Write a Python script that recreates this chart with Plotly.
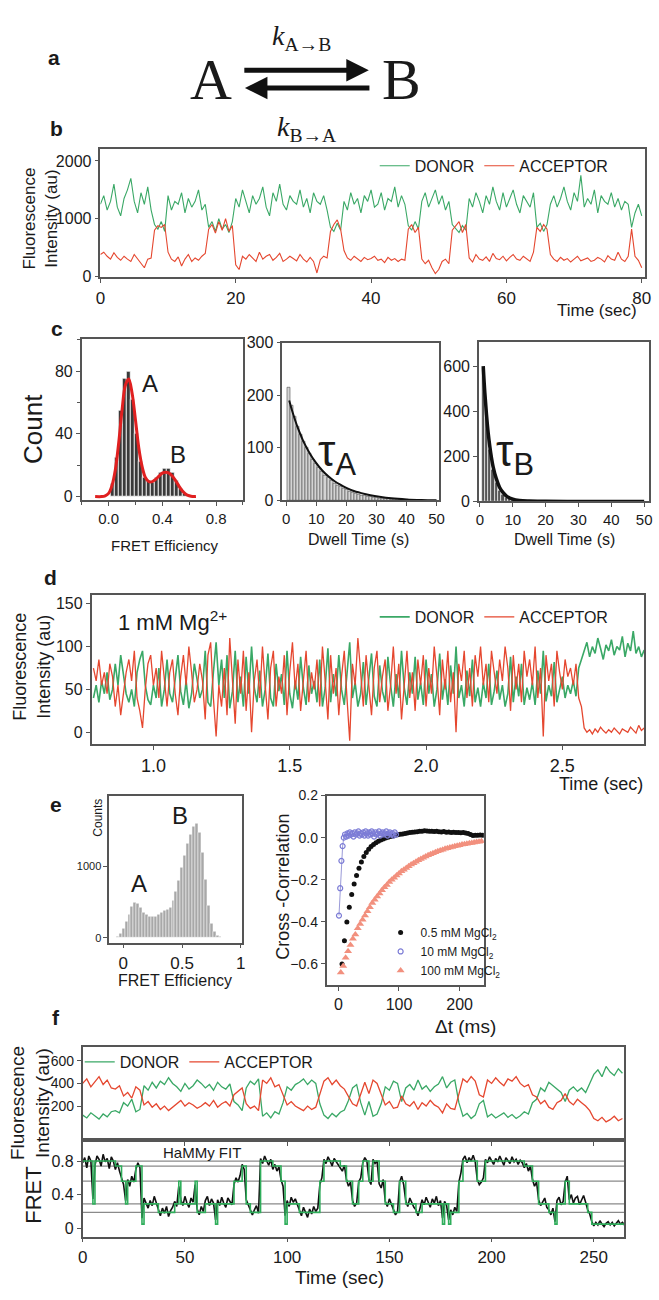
import plotly.graph_objects as go

W, H = 659, 1300
FONT = "Liberation Sans Narrow, Liberation Sans, Arial, sans-serif"
SERIF = "Liberation Serif, DejaVu Serif, serif"
INK = "#1a1a1a"
AXC = "#555555"
GREEN = "#3aa866"
RED = "#e5472f"

# ---------------- panel b: intensity trace, 0.5 s frames ----------------
b_donor = [1250, 1400, 1150, 1300, 1600, 1200, 1050, 1350, 1500, 1700, 1300, 1100, 1450, 1250, 1550, 1150,
           900, 820, 950, 780,
           1400, 1150, 1300, 1250, 1450, 1100, 1350, 1200, 1300, 1500, 1150, 1250,
           850, 950, 780, 1000, 820, 900, 760, 950,
           1350, 1200, 1500, 1300, 1100, 1400, 1250, 1350, 1550, 1200, 1050, 1450, 1300, 1600, 1250, 1150,
           1400, 1300, 1250, 1500, 1200, 1350, 1100, 1450, 1300, 1250, 1400, 1150,
           850, 780, 920, 800,
           1300, 1150, 1450, 1250, 1350, 1100, 1400, 1300, 1500, 1200, 1250, 1450, 1150, 1350, 1300, 1550,
           1200, 1400, 1250,
           880, 800, 950, 820,
           1300, 1450, 1200, 1350, 1500, 1250, 1400, 1150, 1300,
           900, 820, 760, 880, 800,
           1350, 1200, 1450, 1300, 1100, 1400, 1250, 1550, 1300, 1150, 1450, 1200, 1350, 1500, 1250, 1100,
           1400, 1300, 1200, 1450,
           850, 920, 780, 900,
           1250, 1400, 1200, 1350, 1550, 1300, 1150, 1450, 1300, 1750, 1200, 1350, 1250, 1500, 1100, 1400,
           1300, 1250, 1450, 1200, 1350, 1150, 1300, 1250,
           850, 1100, 1250, 1050]
b_acceptor = [380, 420, 350, 300, 410, 330, 280, 350, 300, 260, 380, 300, 220, 150, 300, 320,
              800, 880, 850, 900,
              420, 300, 260, 340, 180, 300, 380, 260, 320, 280, 350, 400,
              820, 900, 750, 950, 800, 1000, 780, 880,
              200, 120, 350, 300, 380, 320, 260, 420, 300, 350, 380, 280, 330, 400, 260, 300,
              350, 310, 270, 380, 300, 250, 330, 260, 60, 290, 350, 320,
              780, 900, 980, 820,
              450, 320, 280, 350, 300, 260, 330, 290, 310, 350, 280, 300, 240, 330, 280, 310,
              260, 300, 280,
              820, 900, 760, 850,
              300, 220, 280, 150, 50, 120, 260, 300, 220,
              800, 880, 950, 760, 900,
              320, 250, 380, 300, 280, 340, 260, 400, 310, 290, 350, 270, 330, 380, 300, 280,
              350, 300, 260, 420,
              850, 780, 900, 820,
              380, 300, 260, 330, 280, 310, 250, 300, 350, 270, 300, 320, 260, 280, 330, 300,
              250, 360, 300, 280, 420, 300, 260, 350,
              820, 350, 280, 150]
b_time = [i * 0.5 for i in range(len(b_donor))]

# ---------------- panel c: FRET histogram and dwell-time histograms ----------------
c_fret_bins = [0.03, 0.06, 0.09, 0.12, 0.15, 0.18, 0.21, 0.24, 0.27, 0.30,
               0.33, 0.36, 0.39, 0.42, 0.45, 0.48, 0.51, 0.54, 0.57]
c_fret_counts = [8, 25, 55, 75, 80, 62, 40, 22, 12, 10, 9, 12, 15, 18, 18, 15, 10, 5, 2]
c_fit_x = [-0.1, -0.05, -0.025, 0, 0.025, 0.05, 0.075, 0.1, 0.125, 0.15, 0.175, 0.2, 0.225, 0.25,
           0.275, 0.3, 0.325, 0.35, 0.375, 0.4, 0.425, 0.45, 0.475, 0.5, 0.525, 0.55, 0.575,
           0.6, 0.625, 0.65]
c_fit_y = [0, 0, 0.5, 2, 7, 17, 34, 55, 71, 75, 66, 49, 31, 19, 12, 9.5, 9.5, 11, 13, 15, 15.5,
           15, 13, 10, 6.5, 3.5, 1.5, 0.5, 0, 0]

dwell_a_bins = list(range(1, 41))
dwell_a_counts = [215, 180, 160, 140, 125, 112, 100, 90, 78, 70, 62, 55, 48, 43, 38, 33, 29, 26,
                  23, 20, 17, 15, 13, 12, 10, 9, 8, 7, 6, 5, 4, 4, 3, 3, 2, 2, 2, 1, 1, 1]
dwell_a_fit_x = [1, 2, 3, 4, 5, 6, 8, 10, 12, 14, 16, 18, 20, 22, 25, 28, 31, 35, 40, 45, 50]
dwell_a_fit_y = [190, 170, 152, 136, 122, 109, 88, 71, 57, 46, 37, 30, 24, 19, 14, 10, 7, 4, 2, 1, 0.5]

dwell_b_bins = list(range(1, 21))
dwell_b_counts = [590, 380, 230, 140, 85, 50, 30, 18, 11, 7, 5, 3, 2, 2, 1, 1, 1, 0.5, 0.5, 0.5]
dwell_b_fit_x = [1, 1.5, 2, 2.5, 3, 3.5, 4, 5, 6, 7, 8, 10, 12, 15, 20, 30, 40, 50]
dwell_b_fit_y = [600, 480, 385, 305, 245, 195, 155, 100, 62, 40, 25, 10, 4, 1.5, 0.5, 0, 0, 0]

# ---------------- panel d: fast trace at 1 mM Mg2+, 10 ms frames ----------------
d_donor = [40, 55, 35, 60, 45, 70, 38, 50, 80, 55, 90, 65, 45, 35, 50, 30, 70, 85, 95, 55,
           38, 32, 55, 40, 75, 30, 50, 85, 45, 35, 65, 90, 48, 32, 60, 28, 45, 80, 62, 40,
           50, 95, 35, 30, 70, 105, 55, 85, 40, 90, 28, 48, 95, 35, 65, 30, 88, 45, 100, 52,
           35, 72, 30, 50, 92, 40, 30, 80, 48, 68, 32, 95, 45, 28, 60, 38, 88, 52, 32, 78,
           45, 60, 35, 85, 30, 52, 98, 35, 68, 42, 90, 50, 32, 72, 105, 40, 58, 30, 45, 82,
           32, 62, 92, 42, 30, 78, 48, 35, 88, 55, 30, 68, 40, 95, 52, 32, 70, 45, 88, 38,
           58, 32, 85, 45, 68, 30, 50, 92, 38, 62, 32, 78, 45, 100, 40, 55, 30, 72, 42, 85,
           35, 52, 30, 58, 40, 80, 32, 48, 72, 38, 55, 30, 45, 88, 35, 65, 42, 80, 32, 52,
           38, 58, 32, 72, 45, 95, 36, 55, 42, 82, 35, 50, 65, 40, 55, 45, 60, 42, 75, 85,
           95, 105, 88, 100, 92, 110, 98, 85, 102, 95, 108, 90, 100, 96, 112, 88, 104, 95, 118,
           92, 100, 88, 96]
d_acceptor = [75, 60, 85, 55, 70, 45, 80, 65, 30, 55, 20, 45, 70, 85, 60, 95, 40, 25, 5, 50,
              80, 90, 55, 75, 40, 95, 60, 30, 70, 85, 45, 20, 65, 90, 55, 100, 70, 35, 50, 80,
              60, 15, 90, 105, 40, -5, 55, 30, 75, 20, 110, 65, 10, 85, 45, 95, 25, 70, 0, 60,
              85, 40, 100, 55, 15, 75, 95, 30, 65, 45, 90, 20, 70, 105, 50, 80, 25, 60, 95, 35,
              70, 50, 85, 30, 100, 60, 15, 90, 45, 75, 20, 65, 95, 40, -10, 80, 55, 110, 70, 30,
              90, 50, 20, 75, 95, 35, 65, 85, 25, 55, 100, 45, 80, 15, 60, 95, 40, 70, 25, 85,
              55, 90, 30, 75, 45, 100, 65, 20, 85, 50, 95, 35, 70, 0, 80, 60, 95, 40, 75, 30,
              90, 65, 100, 55, 80, 35, 95, 70, 45, 85, 60, 100, 75, 25, 90, 50, 80, 35, 95, 65,
              85, 55, 100, 40, 75, -5, 90, 60, 80, 30, 95, 70, 50, 85, 65, 75, 55, 80, 40, 30,
              5, 0, 3, -2, 4, 0, 6, 2, -1, 3, 0, 5, 1, -2, 4, 2, 0, 6, 3, -1, 8, 2, 5]
d_time = [round(0.78 + 0.01 * i, 2) for i in range(len(d_donor))]

# ---------------- panel e: FRET histogram and cross-correlation ----------------
e_bins = [round(-0.05 + 0.025 * i, 3) for i in range(36)]
e_counts = [20, 60, 130, 220, 330, 440, 500, 480, 420, 360, 320, 300, 290, 300, 330, 360, 380, 390,
            430, 520, 650, 800, 980, 1150, 1320, 1450, 1560, 1600, 1480, 1200, 820, 450, 200, 80, 30, 10]

cc_dt_low = list(range(6, 239, 4))
cc_low = [-0.60, -0.49, -0.40, -0.33, -0.27, -0.22, -0.18, -0.145, -0.115, -0.09,
          -0.07, -0.055, -0.042, -0.032, -0.024, -0.017, -0.011, -0.006, -0.002, 0.002,
          0.005, 0.008, 0.011, 0.014, 0.016, 0.018, 0.02, 0.022, 0.024, 0.026,
          0.027, 0.028, 0.03, 0.031, 0.033, 0.032, 0.03, 0.031, 0.029, 0.03,
          0.028, 0.027, 0.029, 0.026, 0.027, 0.025, 0.026, 0.024, 0.025, 0.023,
          0.024, 0.022, 0.02, 0.015, 0.01, 0.012, 0.012, 0.013, 0.012]
cc_dt_mid = list(range(1, 96, 2))
cc_mid = [-0.37, -0.24, -0.11, -0.04, 0.0, 0.015, 0.005, 0.02, 0.01, 0.025,
          0.015, 0.02, 0.005, 0.025, 0.015, 0.02, 0.03, 0.01, 0.02, 0.015,
          0.025, 0.01, 0.03, 0.02, 0.01, 0.025, 0.015, 0.03, 0.02, 0.005,
          0.025, 0.015, 0.02, 0.03, 0.01, 0.02, 0.025, 0.015, 0.02, 0.03,
          0.01, 0.02, 0.025, 0.015, 0.02, 0.01, 0.025, 0.015]
cc_dt_high = list(range(4, 237, 4))
cc_high = [-0.64, -0.61, -0.57, -0.54, -0.51, -0.48, -0.46, -0.43, -0.41, -0.39,
           -0.37, -0.35, -0.33, -0.31, -0.295, -0.28, -0.265, -0.25, -0.235, -0.225,
           -0.21, -0.2, -0.19, -0.18, -0.17, -0.16, -0.152, -0.144, -0.136, -0.128,
           -0.121, -0.114, -0.107, -0.101, -0.095, -0.089, -0.084, -0.079, -0.074, -0.069,
           -0.065, -0.061, -0.057, -0.053, -0.05, -0.047, -0.044, -0.041, -0.038, -0.036,
           -0.033, -0.031, -0.029, -0.027, -0.025, -0.023, -0.021, -0.019, -0.017]
cc_names = ["0.5 mM MgCl<sub>2</sub>", "10 mM MgCl<sub>2</sub>", "100 mM MgCl<sub>2</sub>"]

# ---------------- panel f: long trace with HaMMy fit ----------------
f_donor = [120, 95, 140, 110, 85, 130, 105, 150, 160, 140, 230, 200, 260, 150, 170,
           380, 340, 410, 360, 420, 390, 450, 400, 370, 330, 400, 350, 380, 430, 400,
           360, 390, 340, 410, 370, 350, 395, 240, 210, 160, 360, 420, 390, 440,
           110, 140, 95, 150, 130, 230, 370, 340, 390, 410, 440, 390, 430, 400, 220,
           120, 90, 135, 105, 145, 165, 250, 360, 390, 230, 120, 240, 110, 130, 220,
           370, 340, 420, 400, 240, 360, 390, 340, 430, 350, 380, 330, 370, 395, 460,
           360, 410, 430, 230, 110, 135, 90, 120, 220, 250,
           105, 130, 95, 120, 140, 100, 125, 90, 115, 150, 130, 230, 260, 360, 330,
           410, 380, 350, 320, 240, 340, 370, 330, 360, 320, 400,
           480, 520, 460, 550, 500, 470, 530, 490]
f_acceptor = [400, 440, 370, 420, 460, 390, 430, 360, 350, 380, 290, 320, 270, 370, 340,
              210, 240, 190, 220, 170, 200, 160, 190, 220, 250, 200, 230, 210, 180, 200,
              230, 200, 250, 190, 220, 240, 200, 300, 330, 360, 220, 180, 200, 160,
              430, 400, 450, 370, 390, 300, 210, 240, 200, 180, 160, 200, 170, 190, 310,
              420, 450, 390, 430, 380, 350, 290, 220, 200, 300, 410, 310, 430, 400, 300,
              210, 240, 180, 190, 290, 220, 200, 240, 170, 230, 200, 250, 210, 190, 140,
              220, 180, 170, 310, 440, 410, 460, 420, 300, 280,
              430, 400, 450, 410, 380, 440, 420, 460, 400, 370, 390, 300, 280, 220, 250,
              190, 170, 230, 250, 310, 240, 210, 260, 230, 200, 160,
              90, 70, 100, 60, 80, 110, 70, 90]
f_time = [2 * i for i in range(len(f_donor))]

f_fret = [0.78, 0.84, 0.72, 0.86, 0.80, 0.35,
          0.75, 0.86, 0.82, 0.74, 0.88, 0.79, 0.83, 0.71, 0.85, 0.80,
          0.70, 0.78, 0.68, 0.60, 0.52, 0.33, 0.58, 0.50, 0.62, 0.55, 0.70, 0.78, 0.72, 0.12,
          0.36, 0.30, 0.24, 0.33, 0.27, 0.38, 0.31,
          0.22, 0.15, 0.24, 0.18, 0.26, 0.14, 0.21, 0.25,
          0.32, 0.26, 0.50, 0.34, 0.27, 0.38, 0.30, 0.25, 0.36, 0.31, 0.52,
          0.23, 0.16, 0.26, 0.20, 0.33, 0.38, 0.27, 0.35, 0.30, 0.10,
          0.34, 0.27, 0.37, 0.30, 0.25, 0.36, 0.32, 0.28,
          0.52, 0.60, 0.55, 0.63, 0.76, 0.70, 0.34, 0.28, 0.24, 0.16, 0.22, 0.27, 0.18,
          0.83, 0.77, 0.86, 0.80, 0.75, 0.82, 0.70, 0.76, 0.68, 0.73, 0.58, 0.50, 0.15,
          0.33, 0.26, 0.37, 0.31, 0.35, 0.28,
          0.22, 0.15, 0.25, 0.19, 0.13, 0.23, 0.17, 0.26, 0.20, 0.24,
          0.52, 0.60, 0.82, 0.77, 0.85, 0.80, 0.74, 0.83, 0.79, 0.76,
          0.72, 0.68, 0.75, 0.58, 0.50, 0.55, 0.33, 0.26, 0.30, 0.55, 0.60,
          0.78, 0.84, 0.80, 0.58, 0.52, 0.82, 0.77, 0.80, 0.53, 0.48, 0.58,
          0.32, 0.26, 0.35, 0.28, 0.23, 0.16, 0.20, 0.55, 0.62, 0.52,
          0.33, 0.26, 0.36, 0.30, 0.25, 0.22, 0.15, 0.24,
          0.34, 0.28, 0.37, 0.31, 0.25, 0.35, 0.30, 0.38, 0.27, 0.33,
          0.12, 0.32, 0.27, 0.10, 0.22, 0.16, 0.25, 0.20, 0.55, 0.66,
          0.82, 0.86, 0.78, 0.84, 0.80, 0.87, 0.79, 0.58, 0.52, 0.55, 0.60,
          0.82, 0.78, 0.85, 0.80, 0.76, 0.83, 0.79, 0.86, 0.81, 0.75, 0.84, 0.80, 0.77, 0.85,
          0.79, 0.82, 0.76, 0.81, 0.78,
          0.72, 0.77, 0.68, 0.74, 0.58, 0.50, 0.55, 0.34, 0.27, 0.31, 0.36, 0.25,
          0.22, 0.16, 0.24, 0.08, 0.33, 0.37, 0.28, 0.32, 0.55, 0.62,
          0.34, 0.40, 0.30, 0.36, 0.38, 0.28, 0.33, 0.39, 0.31, 0.22, 0.17,
          0.08, 0.03, 0.07, 0.04, 0.09, 0.05, 0.02, 0.06, 0.08, 0.04, 0.07, 0.03, 0.06, 0.09,
          0.05, 0.07, 0.04]
f_fret_time = list(range(len(f_fret)))

hammy_start = [0, 5, 6, 16, 19, 21, 22, 26, 29, 30, 37, 45, 47, 48, 55, 56, 60, 65, 66, 74,
               78, 80, 82, 87, 93, 97, 99, 100, 106, 116, 118, 126, 129, 132, 135, 137, 140,
               142, 145, 148, 152, 155, 158, 163, 166, 176, 177, 179, 180, 184, 186, 193, 197,
               216, 220, 223, 228, 231, 232, 236, 238, 247, 249]
hammy_level = [0.80, 0.29, 0.80, 0.74, 0.56, 0.29, 0.56, 0.74, 0.05, 0.29, 0.19, 0.29, 0.56,
               0.29, 0.56, 0.19, 0.29, 0.05, 0.29, 0.56, 0.74, 0.29, 0.19, 0.80, 0.74, 0.56,
               0.05, 0.29, 0.19, 0.56, 0.80, 0.74, 0.56, 0.29, 0.56, 0.80, 0.56, 0.80, 0.56,
               0.29, 0.19, 0.56, 0.29, 0.19, 0.29, 0.05, 0.29, 0.05, 0.19, 0.56, 0.80, 0.56,
               0.80, 0.74, 0.56, 0.29, 0.19, 0.05, 0.29, 0.56, 0.29, 0.19, 0.05]
hammy_end = 265
hammy_states = [0.80, 0.74, 0.56, 0.29, 0.19]


# ---------------- layout helpers (pixel boxes -> paper fractions) ----------------
def xd(left, right):
    return [left / W, right / W]


def yd(top, bottom):
    return [1 - bottom / H, 1 - top / H]


def px(x):
    return x / W


def py(y):
    return 1 - y / H


def axis(dom, anchor, rng, tickvals=None, ticktext=None, size=17, labels=True, minor=None,
         fmt=None):
    a = dict(domain=dom, anchor=anchor, range=rng, showline=True, mirror=True,
             linecolor=AXC, linewidth=1.5, ticks="outside", ticklen=4, tickwidth=1.2,
             tickcolor=AXC, showgrid=False, zeroline=False, showticklabels=labels,
             tickfont=dict(family=FONT, size=size, color=INK), fixedrange=True)
    if tickvals is not None:
        a["tickvals"] = tickvals
    if ticktext is not None:
        a["ticktext"] = ticktext
    if minor is not None:
        a["minor"] = minor
    if fmt is not None:
        a["tickformat"] = fmt
    return a


def text(t, x, y, size, family=FONT, angle=0, color=INK, xanchor="center"):
    return dict(text=t, x=px(x), y=py(y), xref="paper", yref="paper", showarrow=False,
                font=dict(family=family, size=size, color=color), textangle=angle,
                xanchor=xanchor, yanchor="middle")


fig = go.Figure()

# panel b
fig.add_trace(go.Scatter(x=b_time, y=b_donor, mode="lines", line=dict(color=GREEN, width=1.1),
                         name="DONOR", legend="legend", xaxis="x", yaxis="y"))
fig.add_trace(go.Scatter(x=b_time, y=b_acceptor, mode="lines", line=dict(color=RED, width=1.1),
                         name="ACCEPTOR", legend="legend", xaxis="x", yaxis="y"))

# panel c
fig.add_trace(go.Bar(x=c_fret_bins, y=c_fret_counts, width=0.03, xaxis="x2", yaxis="y2",
                     marker=dict(color="#3a3a3a", line=dict(color="white", width=0.8)),
                     showlegend=False))
fig.add_trace(go.Scatter(x=c_fit_x, y=c_fit_y, mode="lines", line=dict(color="#e02020", width=3,
                         shape="spline"), xaxis="x2", yaxis="y2", showlegend=False))
fig.add_trace(go.Bar(x=dwell_a_bins, y=dwell_a_counts, width=1, xaxis="x3", yaxis="y3",
                     marker=dict(color="#d4d4d4", line=dict(color="#505050", width=0.6)),
                     showlegend=False))
fig.add_trace(go.Scatter(x=dwell_a_fit_x, y=dwell_a_fit_y, mode="lines",
                         line=dict(color="#111", width=2, shape="spline"),
                         xaxis="x3", yaxis="y3", showlegend=False))
fig.add_trace(go.Bar(x=dwell_b_bins, y=dwell_b_counts, width=1, xaxis="x4", yaxis="y4",
                     marker=dict(color="#555", line=dict(color="white", width=0.6)),
                     showlegend=False))
fig.add_trace(go.Scatter(x=dwell_b_fit_x, y=dwell_b_fit_y, mode="lines",
                         line=dict(color="#111", width=3.5, shape="spline"),
                         xaxis="x4", yaxis="y4", showlegend=False))

# panel d
fig.add_trace(go.Scatter(x=d_time, y=d_donor, mode="lines", line=dict(color=GREEN, width=1.6),
                         name="DONOR", legend="legend2", xaxis="x5", yaxis="y5"))
fig.add_trace(go.Scatter(x=d_time, y=d_acceptor, mode="lines", line=dict(color=RED, width=1.3),
                         name="ACCEPTOR", legend="legend2", xaxis="x5", yaxis="y5"))

# panel e
fig.add_trace(go.Bar(x=e_bins, y=e_counts, width=0.025, xaxis="x6", yaxis="y6",
                     marker=dict(color="#a8a8a8", line=dict(color="white", width=0.5)),
                     showlegend=False))
fig.add_trace(go.Scatter(x=cc_dt_mid, y=cc_mid, mode="lines", line=dict(color="#9a9ad8", width=1),
                         xaxis="x7", yaxis="y7", showlegend=False))
fig.add_trace(go.Scatter(x=cc_dt_low, y=cc_low, mode="markers", name=cc_names[0],
                         marker=dict(color="#111", size=5, symbol="circle"),
                         legend="legend3", xaxis="x7", yaxis="y7"))
fig.add_trace(go.Scatter(x=cc_dt_mid, y=cc_mid, mode="markers", name=cc_names[1],
                         marker=dict(color="#7c7cd6", size=5, symbol="circle-open",
                                     line=dict(width=1.2)),
                         legend="legend3", xaxis="x7", yaxis="y7"))
fig.add_trace(go.Scatter(x=cc_dt_high, y=cc_high, mode="markers", name=cc_names[2],
                         marker=dict(color="#f2907e", size=7, symbol="triangle-up"),
                         legend="legend3", xaxis="x7", yaxis="y7"))

# panel f
fig.add_trace(go.Scatter(x=f_time, y=f_donor, mode="lines", line=dict(color=GREEN, width=1.3),
                         name="DONOR", legend="legend4", xaxis="x8", yaxis="y8"))
fig.add_trace(go.Scatter(x=f_time, y=f_acceptor, mode="lines", line=dict(color=RED, width=1.3),
                         name="ACCEPTOR", legend="legend4", xaxis="x8", yaxis="y8"))
for lv in hammy_states:
    fig.add_shape(type="line", xref="x9 domain", x0=0, x1=1, yref="y9", y0=lv, y1=lv,
                  line=dict(color="#8a8a8a", width=1.2), layer="below")
fig.add_trace(go.Scatter(x=f_fret_time, y=f_fret, mode="lines", line=dict(color="#111", width=1.6),
                         xaxis="x9", yaxis="y9", showlegend=False))
fig.add_trace(go.Scatter(x=hammy_start + [hammy_end], y=hammy_level + [hammy_level[-1]],
                         mode="lines", line=dict(color="#2fae5b", width=1.6, shape="hv"),
                         xaxis="x9", yaxis="y9", showlegend=False))

legend_common = dict(bgcolor="rgba(0,0,0,0)", orientation="h", xanchor="left",
                     yanchor="middle", tracegroupgap=0, itemwidth=30)

fig.update_layout(
    width=W, height=H, margin=dict(l=0, r=0, t=0, b=0),
    paper_bgcolor="white", plot_bgcolor="white", bargap=0,
    font=dict(family=FONT, color=INK),
    xaxis=axis(xd(97, 651), "y", [0, 80.5], [0, 20, 40, 60, 80], size=17),
    yaxis=axis(yd(143, 273), "x", [-17, 2205], [0, 1000, 2000], size=16),
    xaxis2=axis(xd(78, 242), "y2", [-0.2, 1.0], [0, 0.4, 0.8], ["0.0", "0.4", "0.8"], size=15,
                minor=dict(dtick=0.2, tick0=0, ticks="outside", ticklen=3, tickcolor=AXC)),
    yaxis2=axis(yd(335, 499), "x2", [-2.5, 100.8], [0, 40, 80], size=16,
                minor=dict(dtick=20, tick0=0, ticks="outside", ticklen=3, tickcolor=AXC)),
    xaxis3=axis(xd(282, 441), "y3", [-1.3, 50.7], [0, 10, 20, 30, 40, 50], size=15),
    yaxis3=axis(yd(339, 499), "x3", [0, 300], [0, 100, 200, 300], size=16),
    xaxis4=axis(xd(482, 655), "y4", [-0.3, 51.5], [0, 10, 20, 30, 40, 50], size=15),
    yaxis4=axis(yd(338, 500), "x4", [0, 709], [0, 200, 400, 600], size=16),
    xaxis5=axis(xd(88, 650), "y5", [0.773, 2.80], [1.0, 1.5, 2.0, 2.5], size=18, fmt=".1f"),
    yaxis5=axis(yd(595, 746), "x5", [-14, 160], [0, 50, 100, 150], size=16),
    xaxis6=axis(xd(106, 241), "y6", [-0.12, 1.01], [0, 0.5, 1], ["0", "0.5", "1"], size=17),
    yaxis6=axis(yd(798, 947), "x6", [-70, 2000], [0, 1000], size=11),
    xaxis7=axis(xd(327, 487), "y7", [-19.5, 240], [0, 100, 200], size=16),
    yaxis7=axis(yd(798, 990), "x7", [-0.70, 0.2], [-0.6, -0.4, -0.2, 0.0, 0.2], size=14,
                fmt=".1f"),
    xaxis8=axis(xd(79, 630), "y8", [0, 265], [0, 50, 100, 150, 200, 250], labels=False),
    yaxis8=axis(yd(1053, 1147), "x8", [-100, 720], [200, 400, 600], size=14),
    xaxis9=axis(xd(79, 630), "y9", [0, 265], [0, 50, 100, 150, 200, 250], size=17),
    yaxis9=axis(yd(1147, 1245), "x9", [-0.1, 1.05], [0, 0.4, 0.8], ["0", "0.4", "0.8"], size=16),
    legend=dict(legend_common, x=px(376), y=py(160), font=dict(family=FONT, size=16, color=INK)),
    legend2=dict(legend_common, x=px(376), y=py(617), font=dict(family=FONT, size=16, color=INK)),
    legend3=dict(bgcolor="rgba(0,0,0,0)", orientation="v", xanchor="left", yanchor="top",
                 x=px(382), y=py(922), tracegroupgap=0,
                 font=dict(family=FONT, size=12, color=INK)),
    legend4=dict(legend_common, x=px(76), y=py(1068), font=dict(family=FONT, size=16, color=INK)),
)

annotations = [
    # panel letters
    text("<b>a</b>", 50, 50, 21), text("<b>b</b>", 52, 122, 21), text("<b>c</b>", 53, 325, 21),
    text("<b>d</b>", 46, 577, 21), text("<b>e</b>", 52, 807, 21), text("<b>f</b>", 52, 1023, 21),
    # kinetic scheme
    text("A", 210, 72, 58, family=SERIF), text("B", 403, 72, 58, family=SERIF),
    text("<i>k</i><sub>A→B</sub>", 302, 30, 28, family=SERIF),
    text("<i>k</i><sub>B→A</sub>", 307, 122, 28, family=SERIF),
    # panel b
    text("Fluorescence<br>Intensity (au)", 36, 213, 17, angle=-90),
    text("Time (sec)", 645, 307, 17, xanchor="right"),
    # panel c
    text("Count", 29, 427, 26, angle=-90),
    text("FRET Efficiency", 162, 545, 15),
    text("A", 147, 380, 24), text("B", 176, 452, 24),
    text("Dwell Time (s)", 360, 539, 16), text("Dwell Time (s)", 569, 539, 16),
    text("τ<sub>A</sub>", 338, 452, 44), text("τ<sub>B</sub>", 519, 452, 44),
    # panel d
    text("Fluorescence<br>Intensity (au)", 27, 668, 18, angle=-90),
    text("1 mM Mg<sup>2+</sup>", 170, 621, 22),
    text("Time (sec)", 606, 786, 18),
    # panel e
    text("Counts", 95, 820, 12, angle=-90),
    text("A", 136, 887, 24), text("B", 178, 818, 24),
    text("FRET Efficiency", 173, 985, 16),
    text("Cross -Correlation", 283, 890, 18, angle=-90),
    text("Δt (ms)", 468, 1032, 19),
    # panel f
    text("Fluorescence<br>Intensity (au)", 26, 1110, 19, angle=-90),
    text("FRET", 29, 1203, 22, angle=-90),
    text("HaMMy FIT", 200, 1160, 15),
    text("Time (sec)", 340, 1286, 19),
]

# reaction arrows between A and B
annotations.append(dict(x=px(370), y=py(63), xref="paper", yref="paper", ax=-126, ay=0,
                        axref="pixel", ayref="pixel", text="", showarrow=True, arrowhead=2,
                        arrowsize=0.9, arrowwidth=5, arrowcolor="#111"))
annotations.append(dict(x=px(244), y=py(81), xref="paper", yref="paper", ax=126, ay=0,
                        axref="pixel", ayref="pixel", text="", showarrow=True, arrowhead=2,
                        arrowsize=0.9, arrowwidth=5, arrowcolor="#111"))

fig.update_layout(annotations=annotations)
fig.write_html("out.html")
